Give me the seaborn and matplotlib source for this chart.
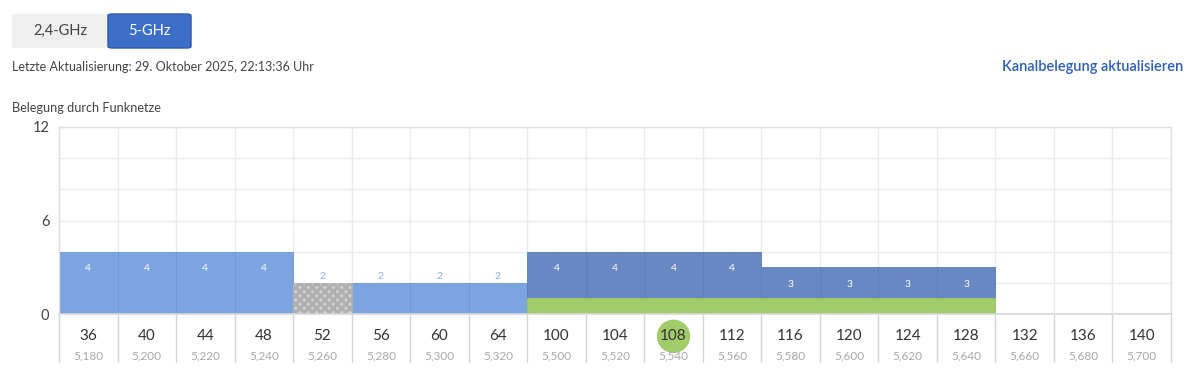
import matplotlib
matplotlib.use("Agg")
import matplotlib.pyplot as plt
import matplotlib.transforms as mtransforms
from matplotlib.patches import FancyBboxPatch
import numpy as np
import pandas as pd
import seaborn as sns

# ---------------- data ----------------
channels = [36, 40, 44, 48, 52, 56, 60, 64, 100, 104, 108, 112, 116, 120, 124, 128, 132, 136, 140]
freqs = ["5,180", "5,200", "5,220", "5,240", "5,260", "5,280", "5,300", "5,320", "5,500", "5,520",
         "5,540", "5,560", "5,580", "5,600", "5,620", "5,640", "5,660", "5,680", "5,700"]
light_blue = [4, 4, 4, 4, 0, 2, 2, 2, 0, 0, 0, 0, 0, 0, 0, 0, 0, 0, 0]
checkered = [0, 0, 0, 0, 2, 0, 0, 0, 0, 0, 0, 0, 0, 0, 0, 0, 0, 0, 0]
dark_blue = [0, 0, 0, 0, 0, 0, 0, 0, 4, 4, 4, 4, 3, 3, 3, 3, 0, 0, 0]
own_network = [0, 0, 0, 0, 0, 0, 0, 0, 1, 1, 1, 1, 1, 1, 1, 1, 0, 0, 0]
active_channel = 108
y_ticks = [0, 6, 12]

title_text = "Belegung durch Funknetze"
update_text = "Letzte Aktualisierung: 29. Oktober 2025, 22:13:36 Uhr"
link_text = "Kanalbelegung aktualisieren"
band_buttons = ["2,4-GHz", "5-GHz"]

# ---------------- style ----------------
sns.set_theme(style="white")
plt.rcParams["font.family"] = ["Lato", "DejaVu Sans"]
plt.rcParams["hatch.color"] = "#a4a4a4"
plt.rcParams["hatch.linewidth"] = 2.2

C_LIGHT = "#7ba4e0"
C_DARK = "#6788c2"
C_GREEN = "#a2cb6a"
C_TEXT = "#444444"
C_GRID = "#ebebeb"
C_SEP = "#d4d4d4"

W, H = 1200, 385
fig = plt.figure(figsize=(W / 100, H / 100), dpi=100)
fig.patch.set_facecolor("white")


def fx(x):
    return x / W


def fy(y):
    return 1 - y / H


ax = fig.add_axes([fx(59), fy(314), fx(1171) - fx(59), fy(127) - fy(314)])

cats = [str(c) for c in channels]
df = pd.DataFrame({
    "channel": cats * 4,
    "layer": ["light"] * len(cats) + ["check"] * len(cats) + ["dark"] * len(cats) + ["own"] * len(cats),
    "value": light_blue + checkered + dark_blue + own_network,
})

styles = {
    "light": dict(color=C_LIGHT, edgecolor="#6f98d6"),
    "check": dict(color="#d2d2d2", edgecolor="#b0b0b0", hatch="xxxx"),
    "dark": dict(color=C_DARK, edgecolor="#5c7db8"),
    "own": dict(color=C_GREEN, edgecolor=C_GREEN),
}
containers = {}
for layer in ["light", "check", "dark", "own"]:
    sub = df[(df.layer == layer) & (df.value > 0)]
    st = styles[layer]
    sns.barplot(data=sub, x="channel", y="value", order=cats, width=1.0,
                color=st["color"], saturation=1, ax=ax, errorbar=None,
                linewidth=0.6, edgecolor=st["edgecolor"], hatch=st.get("hatch"), zorder=2)
    containers[layer] = ax.containers[-1]

# value labels
for layer in ["light", "check", "dark"]:
    cont = containers[layer]
    vals = [b.get_height() for b in cont]
    inside = [f"{int(v)}" if v >= 3 else "" for v in vals]
    outside = [f"{int(v)}" if v < 3 else "" for v in vals]
    ax.bar_label(cont, labels=inside, padding=-15.5, color="white", fontsize=7.5)
    ax.bar_label(cont, labels=outside, padding=1.5, color="#8aaee6", fontsize=7.5)

# axes / grid
n = len(channels)
ax.set_xlim(-0.5, n - 0.5)
ax.set_ylim(0, 12)
ax.set_yticks(np.arange(0, 13, 2))
ax.set_yticklabels([str(v) if v in y_ticks else "" for v in np.arange(0, 13, 2)])
ax.set_xticks(range(n))
ax.set_xticklabels(cats)
ax.set_xlabel("")
ax.set_ylabel("")
ax.tick_params(axis="both", length=0)
ax.tick_params(axis="y", pad=7, labelsize=10.5, labelcolor=C_TEXT)
ax.tick_params(axis="x", pad=11, labelsize=11, labelcolor="#333333")
ax.set_axisbelow(True)
ax.grid(axis="y", color=C_GRID, linewidth=1, zorder=0)
bounds = np.arange(n + 1) - 0.5
ax.vlines(bounds, 0, 12, color=C_GRID, linewidth=1, zorder=0)
for s in ["top", "right", "left"]:
    ax.spines[s].set_color("#e0e0e0")
    ax.spines[s].set_linewidth(1)
ax.spines["bottom"].set_color("#d8d8d8")
ax.spines["bottom"].set_linewidth(1.2)

# separators below axis and frequency labels
trans = mtransforms.blended_transform_factory(ax.transData, ax.transAxes)
below = -48 / 187
ax.vlines(bounds, below, 0, color=C_SEP, linewidth=1, transform=trans, clip_on=False)
for i, f in enumerate(freqs):
    ax.text(i, -42 / 187, f, transform=trans, ha="center", va="center",
            fontsize=8.5, color="#a8a8a8")

# highlight active channel
for lbl in ax.get_xticklabels():
    if lbl.get_text() == str(active_channel):
        lbl.set_bbox(dict(boxstyle="circle,pad=0.22", fc=C_GREEN, ec="none"))

# ---------------- header ----------------
btn1 = FancyBboxPatch((fx(12), fy(48)), fx(108) - fx(12), fy(14) - fy(48),
                      boxstyle="round,pad=0,rounding_size=0.004", transform=fig.transFigure,
                      fc="#efefef", ec="none")
btn2 = FancyBboxPatch((fx(108), fy(48)), fx(191) - fx(108), fy(14) - fy(48),
                      boxstyle="round,pad=0,rounding_size=0.004", transform=fig.transFigure,
                      fc="#3d6fc8", ec="#2d58a6", lw=1)
fig.patches.extend([btn1, btn2])
fig.text(fx(60), fy(31), band_buttons[0], ha="center", va="center", fontsize=10.5, color=C_TEXT)
fig.text(fx(149.5), fy(31), band_buttons[1], ha="center", va="center", fontsize=10.5, color="white")
fig.text(fx(12), fy(67), update_text, ha="left", va="center", fontsize=9, color=C_TEXT)
fig.text(fx(1183), fy(67), link_text, ha="right", va="center", fontsize=10.5,
         color="#2d5fb5", fontweight="semibold")
fig.text(fx(12), fy(108), title_text, ha="left", va="center", fontsize=9.2, color=C_TEXT)

fig.savefig("out.png", dpi=100, facecolor="white")
